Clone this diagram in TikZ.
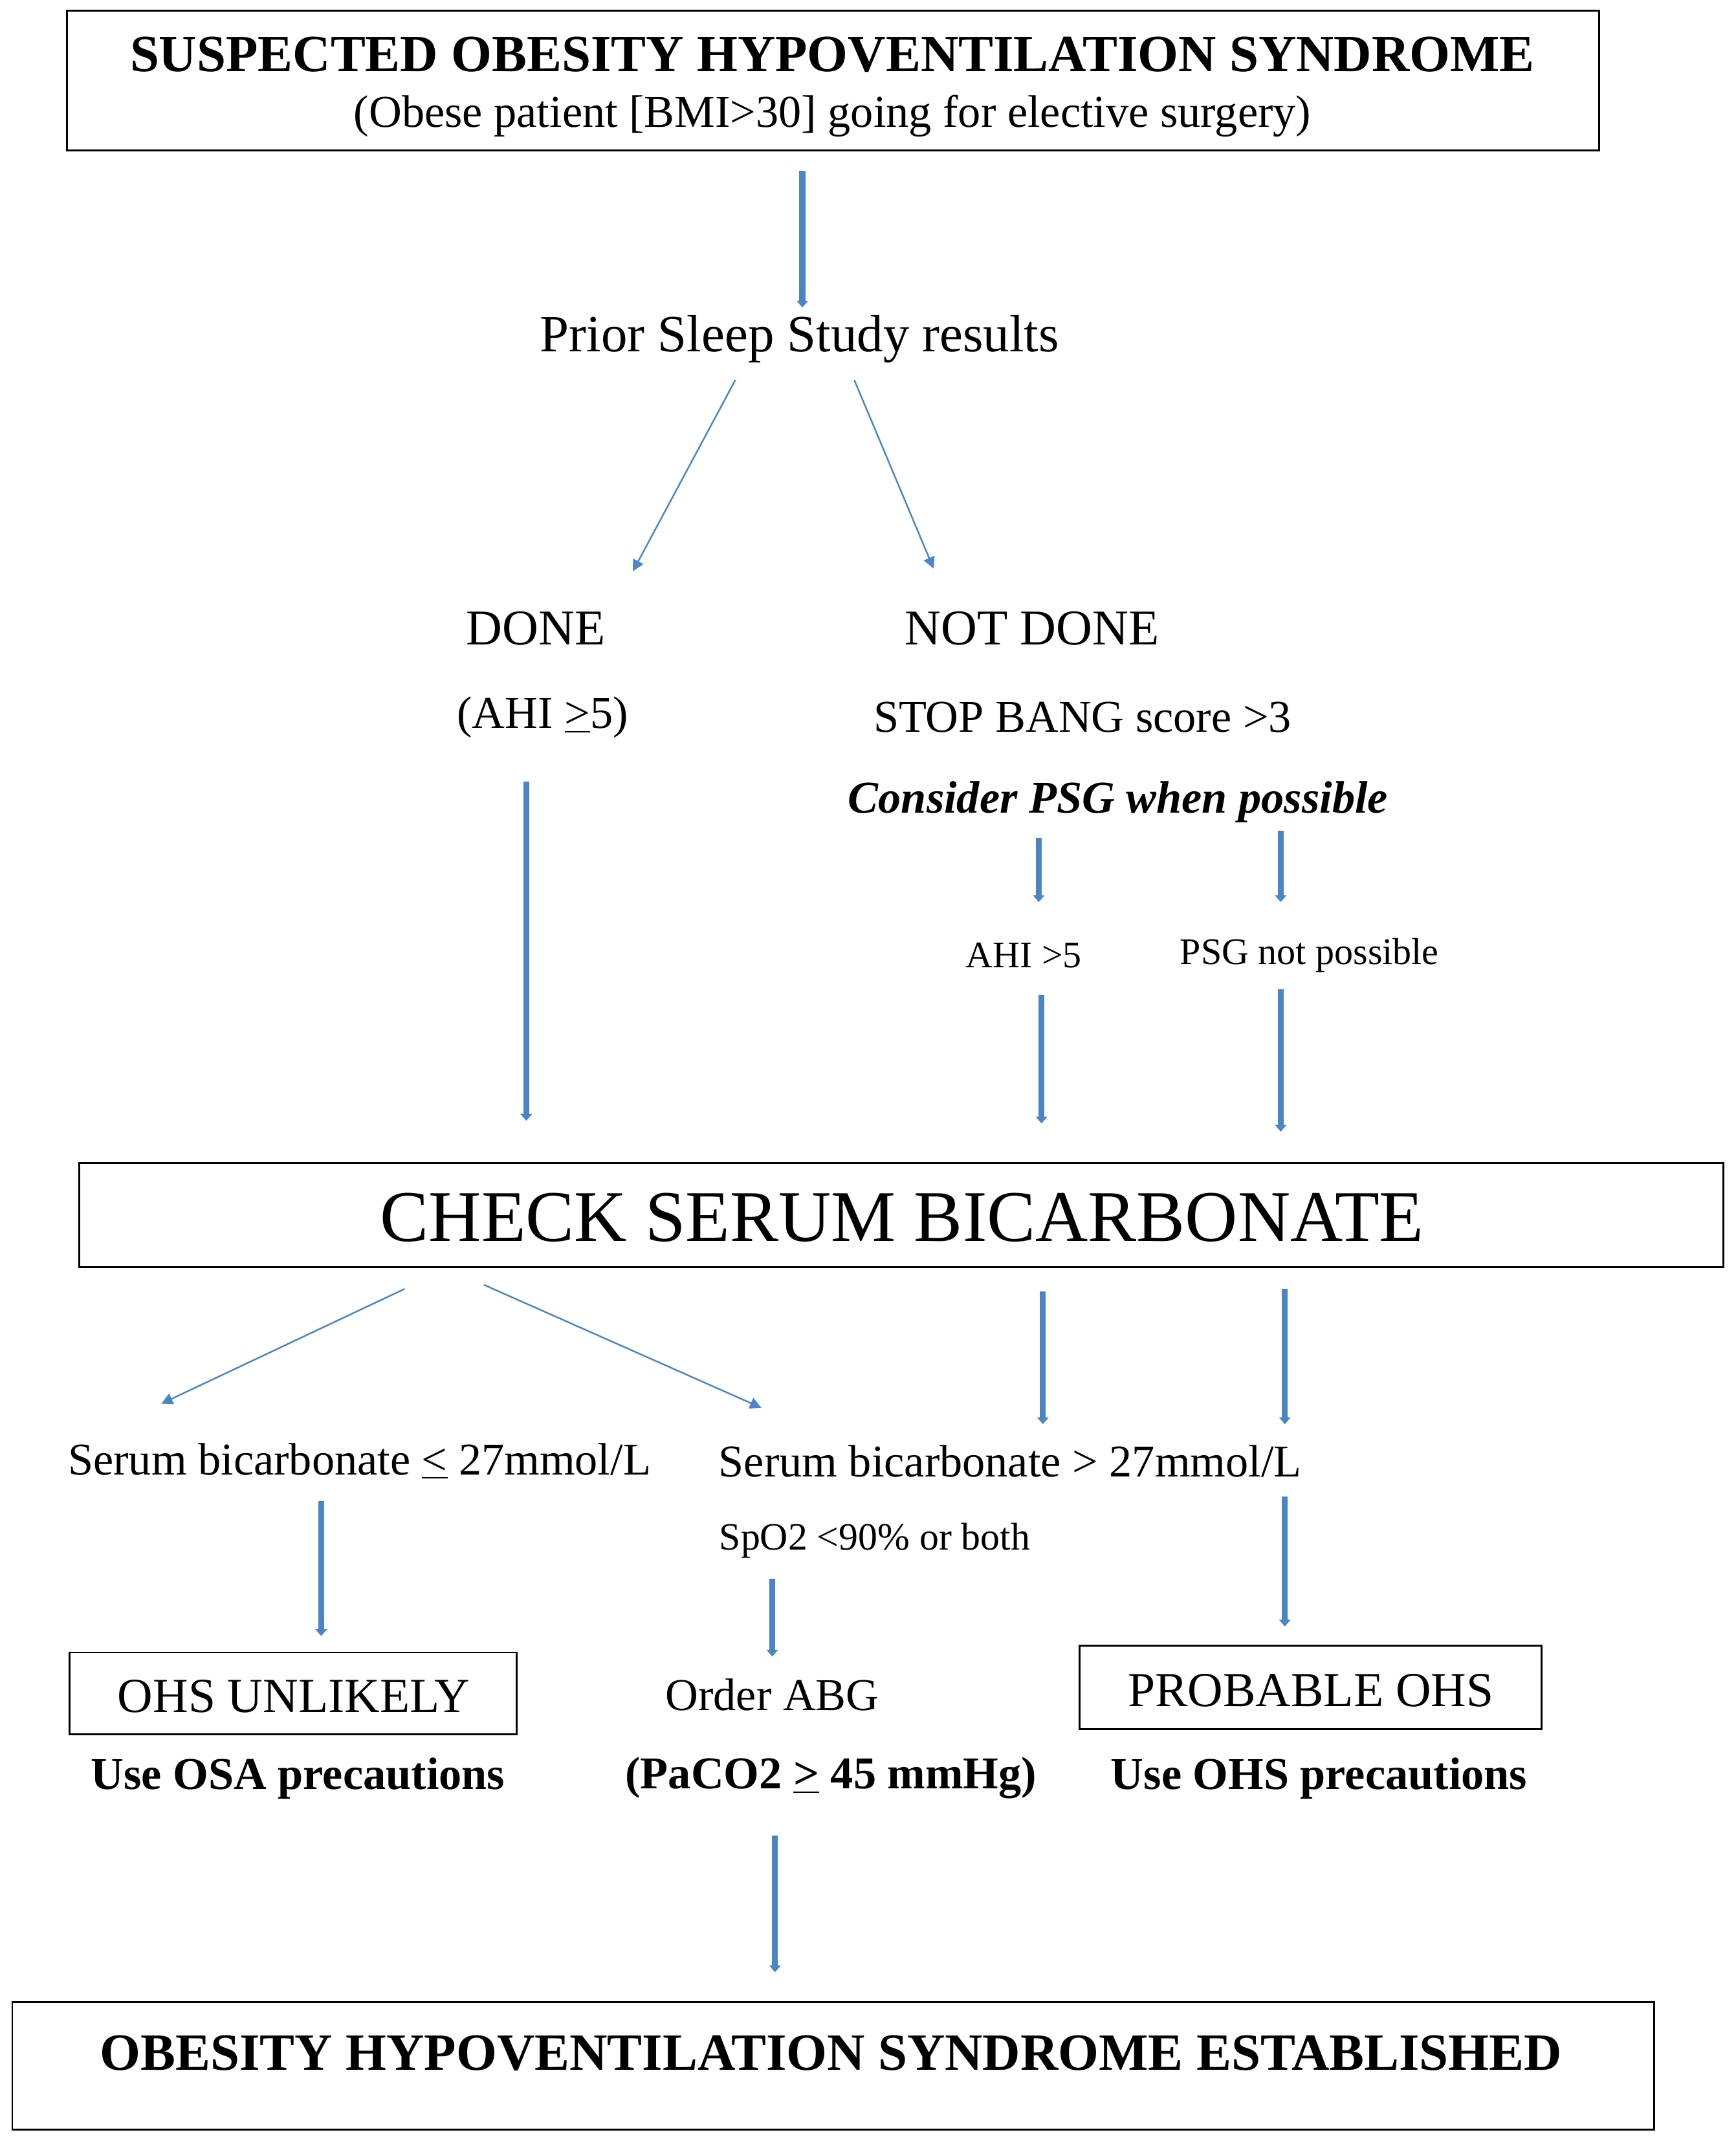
\documentclass[tikz,border=0pt]{standalone}
\usepackage{fontspec}
\setmainfont{Liberation Serif}
\usetikzlibrary{arrows,arrows.meta,positioning}
\definecolor{flowblue}{RGB}{74,134,196}
\begin{document}
\begin{tikzpicture}[x=0.02112cm,y=-0.02112cm]

 \tikzstyle{box}=[draw,thick,inner sep=0pt]
 \tikzstyle{fat}=[draw=flowblue,line width=2.6pt,-{Triangle[length=3pt,width=5pt]}]
 \tikzstyle{thin}=[draw=flowblue,line width=0.7pt,-{Triangle[length=5pt,width=5pt]}]

\useasboundingbox (0,0) rectangle (1270,1565);

% Boxes
\node[box,minimum width=1121*0.02112cm,minimum height=102*0.02112cm] (top) at (609.5,59) {};
\node[box,minimum width=1203*0.02112cm,minimum height=76*0.02112cm] (check) at (659.5,889) {};
\node[box,minimum width=327*0.02112cm,minimum height=60*0.02112cm] (unlikely) at (214.5,1239) {};
\node[box,minimum width=338*0.02112cm,minimum height=61*0.02112cm] (probable) at (959,1234.5) {};
\node[box,minimum width=1201*0.02112cm,minimum height=93*0.02112cm] (final) at (609.5,1511.5) {};

% Texts
\node (topa) at (609,40) {\fontsize{23}{26}\selectfont\bfseries SUSPECTED OBESITY HYPOVENTILATION SYNDROME};
\node (topb) at (609,85) {\fontsize{20}{23}\selectfont (Obese patient [BMI>30] going for elective surgery)};
\node (prior) at (585,248) {\fontsize{23}{26}\selectfont Prior Sleep Study results};
\node (done) at (392,460) {\fontsize{22}{26}\selectfont DONE};
\node (ahia) at (397,525) {\fontsize{20}{24}\selectfont (AHI \underline{>}5)};
\node (notdone) at (755,460) {\fontsize{22}{26}\selectfont NOT DONE};
\node (stop) at (792,525) {\fontsize{20}{24}\selectfont STOP BANG score >3};
\node (psg) at (818,587) {\fontsize{20}{24}\selectfont\bfseries\itshape Consider PSG when possible};
\node (ahib) at (749,699) {\fontsize{16.5}{20}\selectfont AHI >5};
\node (nopsg) at (958,699) {\fontsize{16.5}{20}\selectfont PSG not possible};
\node (checkt) at (660,891) {\fontsize{32}{36}\selectfont CHECK SERUM BICARBONATE};
\node (low) at (263,1069) {\fontsize{20}{24}\selectfont Serum bicarbonate \underline{<} 27mmol/L};
\node (high) at (739,1069) {\fontsize{20}{24}\selectfont Serum bicarbonate > 27mmol/L};
\node (spo) at (640,1127) {\fontsize{17}{20}\selectfont SpO2 <90\% or both};
\node (unlt) at (215,1241) {\fontsize{21.5}{25}\selectfont OHS UNLIKELY};
\node (abg) at (565,1240) {\fontsize{20}{24}\selectfont Order ABG};
\node (prot) at (959,1237) {\fontsize{21.5}{25}\selectfont PROBABLE OHS};
\node (osa) at (218,1301) {\fontsize{20}{24}\selectfont\bfseries Use OSA precautions};
\node (paco) at (608,1301) {\fontsize{20}{24}\selectfont\bfseries (PaCO2 \underline{>} 45 mmHg)};
\node (ohs) at (965,1301) {\fontsize{20}{24}\selectfont\bfseries Use OHS precautions};
\node (finalt) at (608,1502) {\fontsize{23}{26}\selectfont\bfseries OBESITY HYPOVENTILATION SYNDROME ESTABLISHED};

% Arrow ends
\coordinate (a1) at (587,125); \coordinate (b1) at (587,225);
\coordinate (a2) at (538,278); \coordinate (b2) at (463,418);
\coordinate (a3) at (625,278); \coordinate (b3) at (683,416);
\coordinate (a4) at (760,613); \coordinate (b4) at (760,660);
\coordinate (a5) at (937,608); \coordinate (b5) at (937,660);
\coordinate (a6) at (385,572); \coordinate (b6) at (385,820);
\coordinate (a7) at (762,728); \coordinate (b7) at (762,822);
\coordinate (a8) at (937,724); \coordinate (b8) at (937,828);
\coordinate (a9) at (296,943); \coordinate (b9) at (118,1027);
\coordinate (a10) at (354,940); \coordinate (b10) at (557,1030);
\coordinate (a11) at (763,945); \coordinate (b11) at (763,1042);
\coordinate (a12) at (940,943); \coordinate (b12) at (940,1042);
\coordinate (a13) at (235,1098); \coordinate (b13) at (235,1197);
\coordinate (a14) at (565,1155); \coordinate (b14) at (565,1212);
\coordinate (a15) at (940,1095); \coordinate (b15) at (940,1190);
\coordinate (a16) at (567,1343); \coordinate (b16) at (567,1443);

% Arrows
\foreach \i in {1,4,5,6,7,8,11,12,13,14,15,16}
  \draw[fat] (a\i) -- (b\i);
\foreach \i in {2,3,9,10}
  \draw[thin] (a\i) -- (b\i);

\end{tikzpicture}
\end{document}
